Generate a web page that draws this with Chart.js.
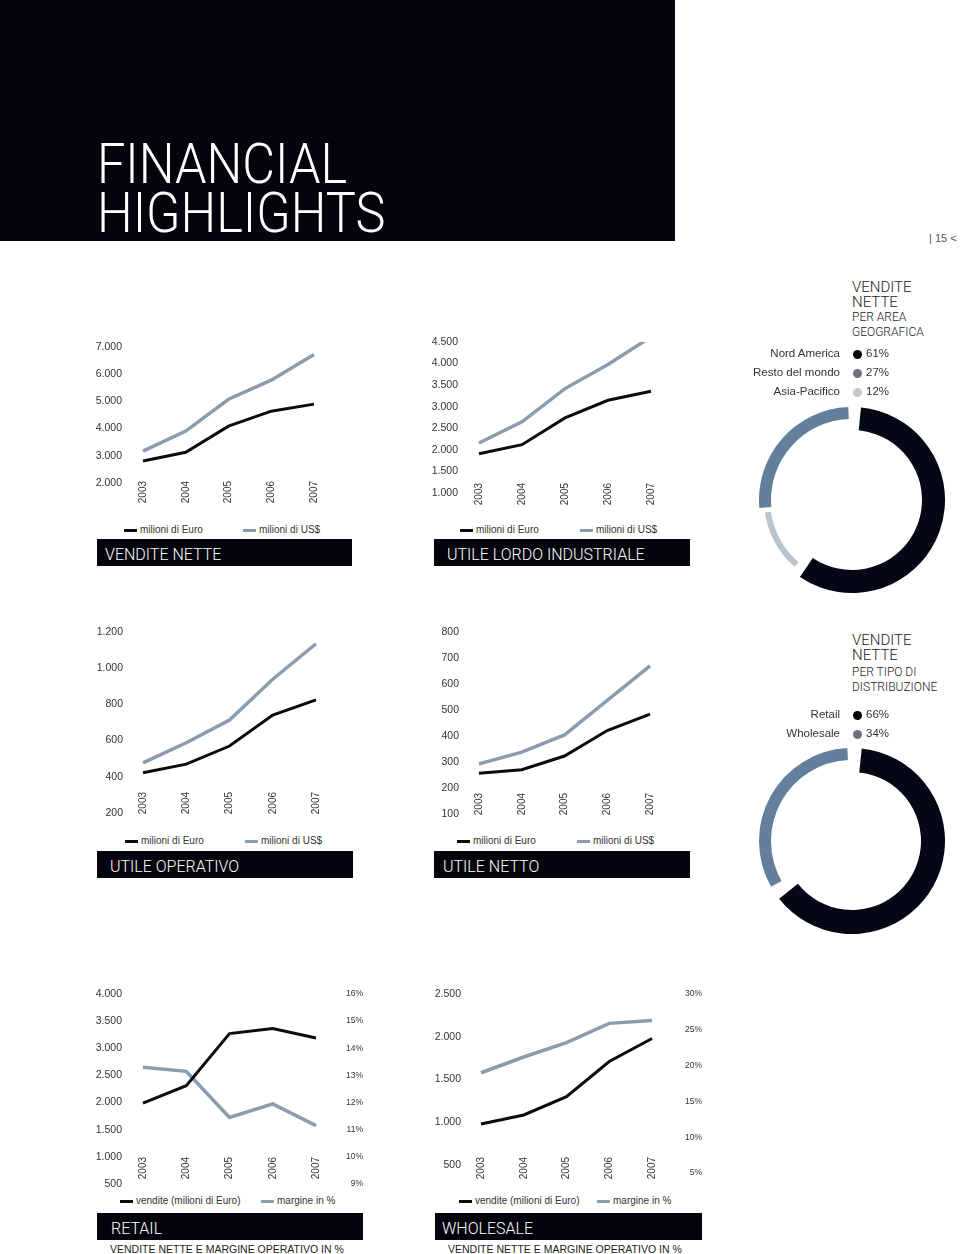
<!DOCTYPE html>
<html>
<head>
<meta charset="utf-8">
<title>Financial Highlights</title>
<script src="https://cdn.jsdelivr.net/npm/chart.js@4.4.1/dist/chart.umd.min.js"></script>
<style>
  body { margin: 0; background: #fff; }
  #page { position: relative; width: 960px; height: 1254px; overflow: hidden; font-family: "Liberation Sans", Arial, sans-serif; color: #2b2b2b; }
  #page div, #page canvas { position: absolute; }
  .t { white-space: nowrap; line-height: 1; }
  .band { left: 0; top: 0; width: 675px; height: 241px; background: #03040c; }
  .headline { left: 97px; color: #fff; font-family: Roboto, "Liberation Sans", sans-serif; font-weight: 300; font-size: 56px; transform-origin: 0 0; transform: scaleX(0.9); }
  .box { background: #03040c; height: 27px; }
  .box .t { color: #fff; font-family: Roboto, "Liberation Sans", sans-serif; font-weight: 300; font-size: 16px; top: 8px; }
  .legend { font-size: 10px; color: #333; }
  .swatch { width: 13px; height: 3px; }
  .ringhead { left: 852px; color: #222; font-family: Roboto, "Liberation Sans", sans-serif; font-weight: 300; }
</style>
</head>
<body>
<div id="page">
  <div class="band"></div>
  <div class="t headline" style="top:136px">FINANCIAL</div>
  <div class="t headline" style="top:185px">HIGHLIGHTS</div>
  <div class="t" style="left:929px;top:233px;font-size:11px;color:#555">| 15 &lt;</div>
</div>
<script>
// data
const years = ['2003', '2004', '2005', '2006', '2007'];
const currencyNames = ['milioni di Euro', 'milioni di US$'];
const channelNames = ['vendite (milioni di Euro)', 'margine in %'];

const venditeEuro = [2810, 3130, 4090, 4640, 4900];
const venditeUsd = [3170, 3910, 5080, 5780, 6720];
const venditeTicks = [2000, 3000, 4000, 5000, 6000, 7000];

const lordoEuro = [1910, 2120, 2740, 3150, 3360];
const lordoUsd = [2160, 2650, 3420, 3980, 4620];
const lordoTicks = [1000, 1500, 2000, 2500, 3000, 3500, 4000, 4500];

const operativoEuro = [422, 470, 570, 741, 825];
const operativoUsd = [477, 588, 714, 939, 1135];
const operativoTicks = [200, 400, 600, 800, 1000, 1200];

const nettoEuro = [257, 270, 323, 421, 484];
const nettoUsd = [293, 338, 404, 537, 670];
const nettoTicks = [100, 200, 300, 400, 500, 600, 700, 800];

const retailVendite = [1990, 2310, 3270, 3365, 3190];
const retailMargine = [13.3, 13.15, 11.45, 11.95, 11.15];
const retailTicks = [500, 1000, 1500, 2000, 2500, 3000, 3500, 4000];
const retailPctTicks = [9, 10, 11, 12, 13, 14, 15, 16];

const wholesaleVendite = [980, 1085, 1300, 1710, 1980];
const wholesaleMargine = [19.0, 21.2, 23.2, 25.9, 26.3];
const wholesaleTicks = [500, 1000, 1500, 2000, 2500];
const wholesalePctTicks = [5, 10, 15, 20, 25, 30];

const areaLabels = ['Nord America', 'Resto del mondo', 'Asia-Pacifico'];
const areaShares = [61, 27, 12];
const canaleLabels = ['Retail', 'Wholesale'];
const canaleShares = [66, 34];

Chart.defaults.font.family = '"Liberation Sans", Arial, sans-serif';
Chart.defaults.color = '#333';

const page = document.getElementById('page');
const px = v => v + 'px';
const fmt = v => String(v).replace(/\B(?=(\d{3})+(?!\d))/g, '.');

function add(cls, style, text, parent) {
    const el = document.createElement('div');
    el.className = cls;
    Object.assign(el.style, style);
    if (text != null) el.textContent = text;
    (parent || page).appendChild(el);
    return el;
}

const BLACK = '#0b0b10';
const STEEL = '#8a9cae';

// the lowest tick labels sit beside the rotated years, so the plot area
// stops above the first tick and the axis starts a bit higher than it
function lowBound(ticks, topPx, tickBottomPx, areaBottomPx) {
    const perUnit = (tickBottomPx - topPx) / (ticks[ticks.length - 1] - ticks[0]);
    return ticks[0] + (tickBottomPx - areaBottomPx) / perUnit;
}

function lineChart(c) {
    const [aL, aT, aR, aB] = c.area;
    const yW = 60, padTop = 30, xH = 32;
    const left = aL - yW, top = aT - padTop;
    const right = c.rightEdge ? c.rightEdge + 2 : aR + 16;
    const canvas = document.createElement('canvas');
    canvas.width = right - left;
    canvas.height = aB - top + xH;
    canvas.style.left = px(left);
    canvas.style.top = px(top);
    page.appendChild(canvas);

    const scales = {
        x: {
            offset: false,
            grid: { display: false, drawTicks: false },
            border: { display: false },
            ticks: { minRotation: 90, maxRotation: 90, autoSkip: false, padding: 0, font: { size: 10 } },
            afterFit: s => { s.height = xH; }
        },
        y: {
            position: 'left',
            min: lowBound(c.ticks, aT, c.tickBottom, aB),
            max: c.ticks[c.ticks.length - 1],
            grid: { display: false, drawTicks: false },
            border: { display: false },
            afterBuildTicks: s => { s.ticks = c.ticks.map(v => ({ value: v })); },
            ticks: { autoSkip: false, padding: aL - c.labelRight, font: { size: 10.5 }, callback: v => fmt(v) },
            afterFit: s => { s.width = yW; }
        }
    };
    if (c.pctTicks) {
        scales.y1 = {
            position: 'right',
            min: lowBound(c.pctTicks, aT, c.pctBottom, aB),
            max: c.pctTicks[c.pctTicks.length - 1],
            grid: { display: false, drawTicks: false },
            border: { display: false },
            afterBuildTicks: s => { s.ticks = c.pctTicks.map(v => ({ value: v })); },
            ticks: { autoSkip: false, padding: 0, crossAlign: 'far', font: { size: 8.5 }, callback: v => v + '%' },
            afterFit: s => { s.width = c.rightEdge - aR; }
        };
    }

    new Chart(canvas, {
        type: 'line',
        data: {
            labels: years,
            datasets: [{
                label: c.names[0],
                data: c.series[0],
                borderColor: BLACK,
                borderWidth: 3,
                pointRadius: 0,
                tension: 0,
                yAxisID: 'y'
            }, {
                label: c.names[1],
                data: c.series[1],
                borderColor: STEEL,
                borderWidth: 3.5,
                pointRadius: 0,
                tension: 0,
                yAxisID: c.pctTicks ? 'y1' : 'y'
            }]
        },
        options: {
            responsive: false,
            animation: false,
            layout: { padding: { top: padTop, right: right - (c.rightEdge || aR), bottom: 0, left: 0 } },
            plugins: { legend: { display: false }, tooltip: { enabled: false } },
            scales: scales
        }
    });

    // legend row under the chart
    [BLACK, STEEL].forEach((col, i) => {
        const x = c.legendX[i];
        add('swatch', { left: px(x), top: px(c.legendY - 1.5), background: col });
        add('t legend', { left: px(x + 16), top: px(c.legendY - 5) }, c.names[i]);
    });

    // black title box
    const [bL, bT, bR] = c.box;
    const box = add('box', { left: px(bL), top: px(bT), width: px(bR - bL) });
    add('t', { left: px(c.textIn) }, c.title, box);
    if (c.subtitle) {
        add('t', { left: px(bL + 13), top: px(bT + 31), fontSize: '10.5px', color: '#222' }, c.subtitle);
    }
}

lineChart({ title: 'VENDITE NETTE', names: currencyNames, series: [venditeEuro, venditeUsd], ticks: venditeTicks,
    area: [143, 347, 314, 481], tickBottom: 483, labelRight: 122,
    legendX: [124, 243], legendY: 530, box: [97, 539, 352], textIn: 8 });
lineChart({ title: 'UTILE LORDO INDUSTRIALE', names: currencyNames, series: [lordoEuro, lordoUsd], ticks: lordoTicks,
    area: [479, 342, 651, 483], tickBottom: 493, labelRight: 458,
    legendX: [460, 580], legendY: 530, box: [434, 539, 690], textIn: 13 });
lineChart({ title: 'UTILE OPERATIVO', names: currencyNames, series: [operativoEuro, operativoUsd], ticks: operativoTicks,
    area: [143, 632, 316, 792], tickBottom: 813, labelRight: 123,
    legendX: [125, 245], legendY: 841, box: [97, 851, 353], textIn: 13 });
lineChart({ title: 'UTILE NETTO', names: currencyNames, series: [nettoEuro, nettoUsd], ticks: nettoTicks,
    area: [479, 632, 650, 793], tickBottom: 814, labelRight: 459,
    legendX: [457, 577], legendY: 841, box: [434, 851, 690], textIn: 9 });
lineChart({ title: 'RETAIL', subtitle: 'VENDITE NETTE E MARGINE OPERATIVO IN %', names: channelNames,
    series: [retailVendite, retailMargine], ticks: retailTicks, pctTicks: retailPctTicks,
    area: [143, 994, 316, 1157], tickBottom: 1184, pctBottom: 1184, labelRight: 122, rightEdge: 363,
    legendX: [120, 261], legendY: 1201, box: [97, 1213, 363], textIn: 14 });
lineChart({ title: 'WHOLESALE', subtitle: 'VENDITE NETTE E MARGINE OPERATIVO IN %', names: channelNames,
    series: [wholesaleVendite, wholesaleMargine], ticks: wholesaleTicks, pctTicks: wholesalePctTicks,
    area: [481, 994, 652, 1157], tickBottom: 1165, pctBottom: 1173, labelRight: 461, rightEdge: 702,
    legendX: [459, 597], legendY: 1201, box: [435, 1213, 702], textIn: 7 });

// rings: each slice gets its own thickness, measured from the outer edge
function ringChart(c) {
    const R = c.radius;
    const canvas = document.createElement('canvas');
    canvas.width = canvas.height = 2 * R;
    canvas.style.left = px(c.cx - R);
    canvas.style.top = px(c.cy - R);
    page.appendChild(canvas);

    const order = c.order;
    const ringWidth = {
        id: 'ringWidth',
        afterDatasetUpdate(chart, args) {
            args.meta.data.forEach((arc, i) => {
                const k = order[i];
                const outer = arc.outerRadius - c.insets[k];
                arc.outerRadius = outer;
                arc.innerRadius = outer - c.widths[k];
            });
        }
    };

    new Chart(canvas, {
        type: 'doughnut',
        data: {
            labels: order.map(i => c.labels[i]),
            datasets: [{
                data: order.map(i => c.shares[i]),
                backgroundColor: order.map(i => c.ringColors[i]),
                borderWidth: 0,
                spacing: 8
            }]
        },
        options: {
            responsive: false,
            animation: false,
            cutout: '70%',
            plugins: { legend: { display: false }, tooltip: { enabled: false } }
        },
        plugins: [ringWidth]
    });

    // heading and legend to the upper right of the ring
    c.heading.forEach((line, i) => {
        add('t ringhead', { top: px(c.headTop[i]), fontSize: i < 2 ? '15px' : '12px' }, line);
    });
    c.labels.forEach((label, i) => {
        const y = c.rowY[i];
        add('t', { left: '640px', width: '200px', textAlign: 'right', top: px(y - 6), fontSize: '11.5px', color: '#333' }, label);
        add('', { left: px(853), top: px(y - 4.5), width: '9px', height: '9px', borderRadius: '50%', background: c.dotColors[i] });
        add('t', { left: px(866), top: px(y - 6), fontSize: '11.5px', color: '#333' }, c.shares[i] + '%');
    });
}

ringChart({ labels: areaLabels, shares: areaShares, order: [0, 2, 1],
    ringColors: ['#040716', '#647f9b', '#b9c4d0'], dotColors: ['#050505', '#6c7280', '#c2c6cf'],
    widths: [23, 12, 6], insets: [0, 0, 5],
    cx: 852, cy: 500, radius: 93,
    heading: ['VENDITE', 'NETTE', 'PER AREA', 'GEOGRAFICA'], headTop: [280, 295, 311, 326], rowY: [354, 373, 392] });
ringChart({ labels: canaleLabels, shares: canaleShares, order: [0, 1],
    ringColors: ['#040716', '#647f9b'], dotColors: ['#050505', '#6c7280'],
    widths: [24, 12], insets: [0, 0],
    cx: 852, cy: 841, radius: 93,
    heading: ['VENDITE', 'NETTE', 'PER TIPO DI', 'DISTRIBUZIONE'], headTop: [633, 648, 666, 681], rowY: [715, 734] });
</script>
</body>
</html>
